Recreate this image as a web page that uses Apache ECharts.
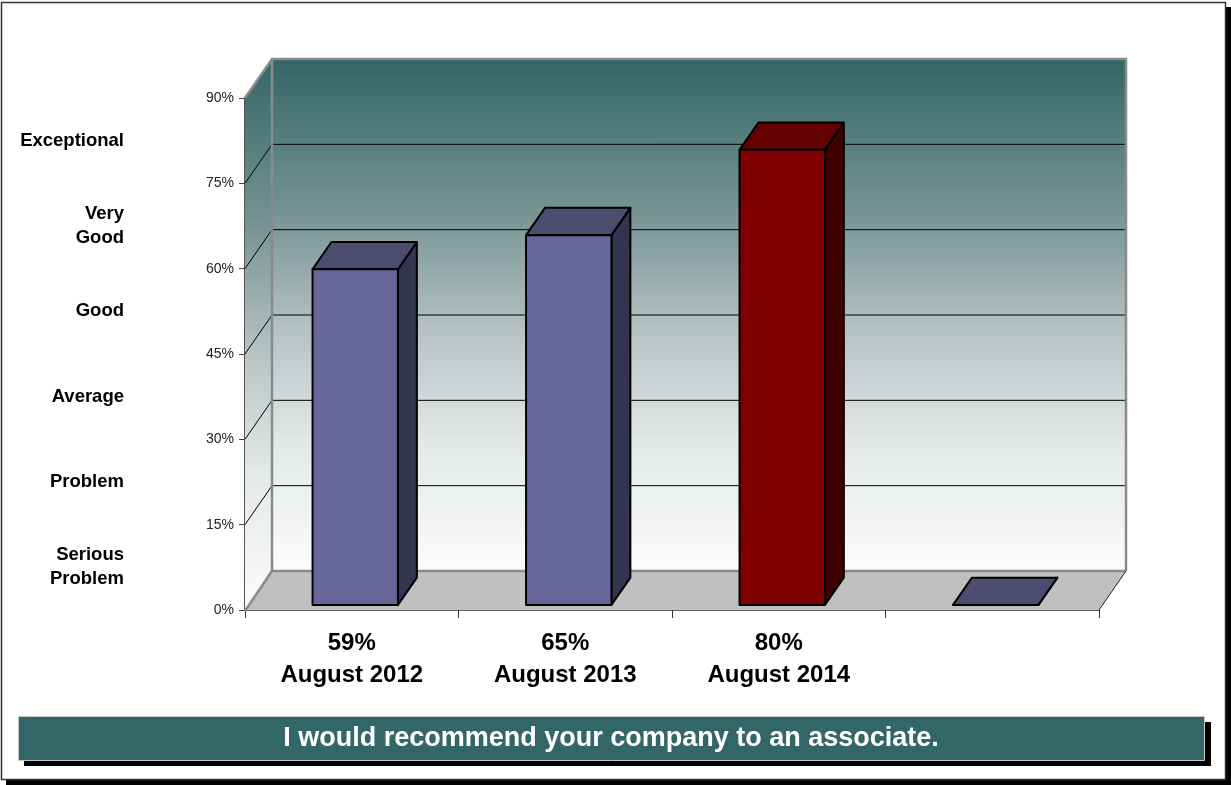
<!DOCTYPE html>
<html>
<head>
<meta charset="utf-8">
<script src="https://cdn.jsdelivr.net/npm/echarts@6/dist/echarts.min.js"></script>
<style>
html,body{margin:0;padding:0;background:#fff;}
#chart{width:1231px;height:785px;}
</style>
</head>
<body>
<div id="chart"></div>
<script>
// ---- data ----
const categories = ['August 2012', 'August 2013', 'August 2014', ''];
const scores = [59, 65, 80, 0];
const ratingLabels = ['Serious\nProblem', 'Problem', 'Average', 'Good', 'Very\nGood', 'Exceptional'];
const yTicks = [0, 15, 30, 45, 60, 75, 90];
const titleText = 'I would recommend your company to an associate.';

// ---- style ----
const FONT = 'Arial, "Liberation Sans", sans-serif';
const DX = 27, DY = -39;          // 3D depth offset
const D0 = 0.13, D1 = 0.83;       // bar depth span (fraction of depth)
const highlightIndex = 2;
const palettes = {
  normal: { front: '#666699', top: '#4c4c6f', side: '#34344f' },
  highlight: { front: '#800000', top: '#640000', side: '#400000' }
};

const chart = echarts.init(document.getElementById('chart'), null, { renderer: 'canvas' });

function wallGradient() {
  return new echarts.graphic.LinearGradient(0, 0, 0, 1, [
    { offset: 0, color: '#336666' },
    { offset: 0.3, color: '#779393' },
    { offset: 0.55, color: '#bac6c6' },
    { offset: 0.75, color: '#e3e8e8' },
    { offset: 1, color: '#fcfcfc' }
  ]);
}

function renderBackground(params, api) {
  const cs = params.coordSys;
  const x = cs.x, y = cs.y, w = cs.width, h = cs.height;
  const children = [];
  children.push({ type: 'polygon', shape: { points: [[x, y + h], [x, y], [x + DX, y + DY], [x + DX, y + h + DY]] },
    style: { fill: wallGradient() } });
  children.push({ type: 'rect', shape: { x: x + DX, y: y + DY, width: w, height: h },
    style: { fill: wallGradient() } });
  yTicks.forEach(function (v) {
    if (v === 0 || v === yTicks[yTicks.length - 1]) return;
    const yy = api.coord([0, v])[1];
    children.push({ type: 'line', shape: { x1: x + DX, y1: yy + DY, x2: x + DX + w, y2: yy + DY },
      style: { stroke: '#000', lineWidth: 1 } });
    children.push({ type: 'line', shape: { x1: x, y1: yy, x2: x + DX, y2: yy + DY },
      style: { stroke: '#000', lineWidth: 1 } });
  });
  children.push({ type: 'polygon', shape: { points: [[x, y + h], [x + w, y + h], [x + w + DX, y + h + DY], [x + DX, y + h + DY]] },
    style: { fill: '#c0c0c0' } });
  const edge = { stroke: '#8a8a8a', lineWidth: 2.5 };
  children.push({ type: 'polyline', shape: { points: [[x, y], [x + DX, y + DY], [x + DX + w, y + DY], [x + DX + w, y + h + DY]] }, style: Object.assign({ fill: null }, edge) });
  children.push({ type: 'line', shape: { x1: x + DX, y1: y + DY, x2: x + DX, y2: y + h + DY }, style: edge });
  children.push({ type: 'line', shape: { x1: x + DX, y1: y + h + DY, x2: x + DX + w, y2: y + h + DY }, style: edge });
  children.push({ type: 'line', shape: { x1: x, y1: y + h + 1, x2: x + DX, y2: y + h + DY }, style: edge });
  children.push({ type: 'line', shape: { x1: x + w, y1: y + h, x2: x + w + DX, y2: y + h + DY }, style: { stroke: '#222', lineWidth: 1 } });
  return { type: 'group', children: children };
}

function renderBar(params, api) {
  const i = api.value(0), v = api.value(1);
  const top = api.coord([i, v]);
  const bot = api.coord([i, 0]);
  const band = api.size([1, 0])[0];
  const bw = band * 0.4;
  const pal = i === highlightIndex ? palettes.highlight : palettes.normal;
  const p = function (px, py, d) { return [px + d * DX, py + d * DY]; };
  const xl = top[0] - bw / 2, xr = top[0] + bw / 2;
  const yt = top[1], yb = bot[1];
  const FTL = p(xl, yt, D0), FTR = p(xr, yt, D0), FBL = p(xl, yb, D0), FBR = p(xr, yb, D0);
  const BTL = p(xl, yt, D1), BTR = p(xr, yt, D1), BBR = p(xr, yb, D1);
  const st = { stroke: '#000', lineWidth: 2, lineJoin: 'round' };
  return {
    type: 'group',
    children: [
      { type: 'polygon', shape: { points: [FTR, BTR, BBR, FBR] }, style: Object.assign({ fill: pal.side }, st) },
      { type: 'polygon', shape: { points: [FTL, FTR, BTR, BTL] }, style: Object.assign({ fill: pal.top }, st) },
      { type: 'polygon', shape: { points: [FBL, FBR, FTR, FTL] }, style: Object.assign({ fill: pal.front }, st) }
    ]
  };
}

const option = {
  animation: false,
  backgroundColor: '#ffffff',
  grid: { left: 245, top: 98, width: 854, height: 512, containLabel: false },
  xAxis: {
    type: 'category',
    data: categories,
    axisLine: { show: true, lineStyle: { color: '#666', width: 1 } },
    axisTick: { show: true, length: 8, interval: 0, lineStyle: { color: '#333' } },
    axisLabel: {
      interval: 0,
      margin: 17,
      fontFamily: FONT, fontSize: 24, fontWeight: 'bold', color: '#000', lineHeight: 32,
      formatter: function (val, idx) { return val ? scores[idx] + '%\n' + val : ''; }
    },
    splitLine: { show: false }
  },
  yAxis: [
    {
      type: 'value', min: 0, max: 90, interval: 15,
      axisLine: { show: true, lineStyle: { color: '#555', width: 2 } },
      axisTick: { show: true, length: 6, lineStyle: { color: '#444' } },
      axisLabel: { formatter: '{value}%', fontFamily: FONT, fontSize: 14, color: '#222', margin: 11 },
      splitLine: { show: false }
    },
    {
      type: 'category', position: 'left', data: ratingLabels, boundaryGap: true,
      axisLine: { show: false }, axisTick: { show: false }, splitLine: { show: false },
      axisLabel: { interval: 0, align: 'right', margin: 121, fontFamily: FONT, fontSize: 18.5, fontWeight: 'bold', color: '#000', lineHeight: 24 }
    }
  ],
  graphic: [
    { type: 'rect', z: -11, silent: true, shape: { x: 6, y: 7, width: 1225, height: 778 },
      style: { fill: '#000' } },
    { type: 'rect', z: -10, silent: true, shape: { x: 1.5, y: 2.5, width: 1224, height: 777 },
      style: { fill: '#fff', stroke: '#333', lineWidth: 1.5 } },
    { type: 'rect', z: 10, silent: true, shape: { x: 24, y: 722, width: 1187, height: 44 },
      style: { fill: '#000' } },
    { type: 'rect', z: 11, silent: true, shape: { x: 18.5, y: 716.5, width: 1186, height: 44 },
      style: { fill: '#336666', stroke: '#c8c8c8', lineWidth: 1 } },
    { type: 'text', z: 12, silent: true, x: 611, y: 739,
      style: { text: titleText, fill: '#fff', font: 'bold 27px ' + FONT, align: 'center', verticalAlign: 'middle' } }
  ],
  series: [
    { type: 'custom', name: 'walls', z: 1, silent: true, clip: false, renderItem: renderBackground, data: [[0, 0]] },
    { type: 'custom', name: 'scores', z: 3, clip: false, renderItem: renderBar,
      encode: { x: 0, y: 1 },
      data: scores.map(function (s, i) { return [i, s]; }) }
  ]
};
chart.setOption(option);
</script>
</body>
</html>
